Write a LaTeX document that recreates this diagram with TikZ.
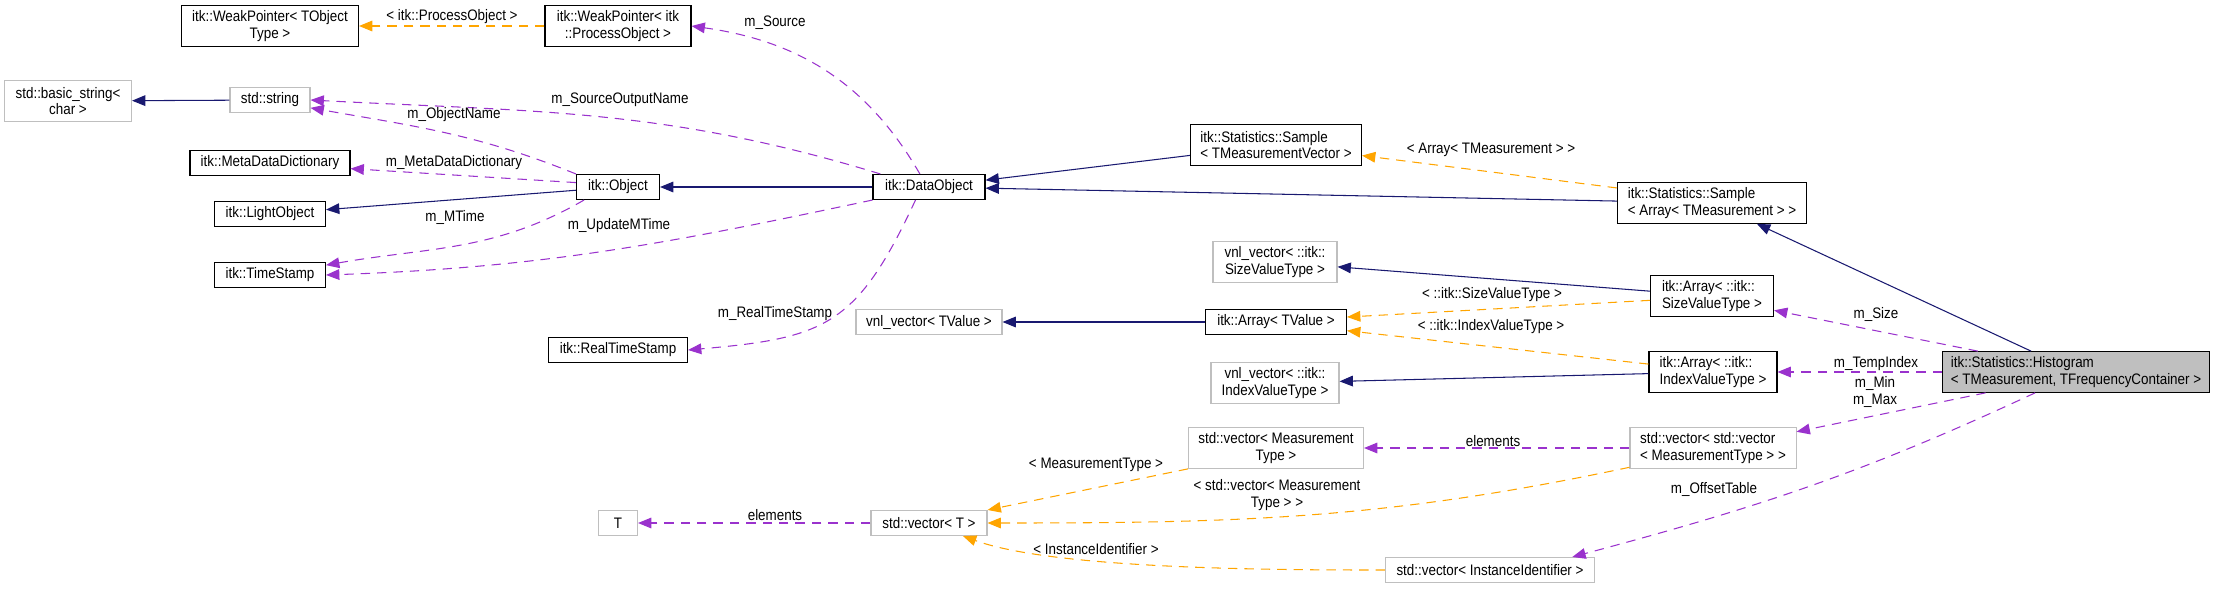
\documentclass[tikz,border=0pt]{standalone}
\usepackage{fontspec}
\setmainfont[FakeStretch=0.88]{Liberation Sans}
\definecolor{inhblue}{HTML}{191970}
\definecolor{usepurple}{HTML}{9A32CD}
\definecolor{tplorange}{HTML}{FFA500}
\definecolor{undocgray}{HTML}{BFBFBF}
\usetikzlibrary{arrows.meta}
\newcommand{\dxfont}{\fontsize{13}{14.2}\selectfont}

\begin{document}
\begin{tikzpicture}[
	x=0.03cm, y=-0.03cm,
	cls/.style={draw=black, fill=white, line width=0.9pt, inner sep=1pt, minimum height=0.75cm, font=\dxfont, align=center},
	ext/.style={cls, draw=undocgray},
	cur/.style={cls, fill=undocgray},
	two/.style={minimum height=1.22cm},
	lbl/.style={font=\dxfont, inner sep=0pt, align=center},
	inh/.style={-{Triangle[length=0.4cm, width=0.32cm]}, line width=0.9pt, color=inhblue},
	use/.style={-{Triangle[length=0.4cm, width=0.32cm]}, line width=0.9pt, color=usepurple, dash pattern=on 8pt off 6pt},
	tpl/.style={use, color=tplorange}
]
	\useasboundingbox (0,0) rectangle (2215,589);

	\node[cls, two, minimum width=5.31cm] (wpT) at (270,26) {itk::WeakPointer< TObject\\Type >};
	\node[cls, two, minimum width=4.38cm] (wpP) at (618,26) {itk::WeakPointer< itk\\::ProcessObject >};
	\node[ext, two, minimum width=3.81cm] (bstr) at (68,101) {std::basic\_string<\\char >};
	\node[ext, minimum width=2.4cm] (str) at (270,100) {std::string};
	\node[cls, minimum width=4.8cm] (mdd) at (270,163) {itk::MetaDataDictionary};
	\node[cls, minimum width=2.49cm] (obj) at (618,187) {itk::Object};
	\node[cls, minimum width=3.33cm] (lobj) at (270,214) {itk::LightObject};
	\node[cls, minimum width=3.33cm] (ts) at (270,275) {itk::TimeStamp};
	\node[cls, minimum width=4.17cm] (rts) at (618,350) {itk::RealTimeStamp};
	\node[ext, minimum width=1.17cm] (tT) at (618,523) {T};
	\node[cls, minimum width=3.36cm] (dobj) at (929,187) {itk::DataObject};
	\node[cls, two, minimum width=5.13cm, align=left] (smpV) at (1276,145) {itk::Statistics::Sample\\< TMeasurementVector >};
	\node[ext, two, minimum width=3.72cm] (vnlS) at (1275,262) {vnl\_vector< ::itk::\\SizeValueType >};
	\node[ext, minimum width=4.38cm] (vnlV) at (929,322) {vnl\_vector< TValue >};
	\node[cls, minimum width=4.23cm] (arrV) at (1276,322) {itk::Array< TValue >};
	\node[ext, two, minimum width=3.84cm] (vnlI) at (1275,383) {vnl\_vector< ::itk::\\IndexValueType >};
	\node[ext, two, minimum width=5.25cm] (vecM) at (1276,448) {std::vector< Measurement\\Type >};
	\node[ext, minimum width=3.48cm] (vecT) at (929,523) {std::vector< T >};
	\node[ext, minimum width=6.27cm] (vecI) at (1490,570) {std::vector< InstanceIdentifier >};
	\node[cls, two, minimum width=5.67cm, align=left] (smpA) at (1712,203) {itk::Statistics::Sample\\< Array< TMeasurement > >};
	\node[cls, two, minimum width=3.69cm, align=left] (arrS) at (1712,296) {itk::Array< ::itk::\\SizeValueType >};
	\node[cls, two, minimum width=3.84cm, align=left] (arrI) at (1713,372) {itk::Array< ::itk::\\IndexValueType >};
	\node[cur, two, minimum width=8.01cm, align=left] (hist) at (2076,372) {itk::Statistics::Histogram\\< TMeasurement, TFrequencyContainer >};
	\node[ext, two, minimum width=4.98cm, align=left] (vecVM) at (1713,448) {std::vector< std::vector\\< MeasurementType > >};

	\foreach \a/\b in {str/bstr, obj/lobj, dobj/obj, smpV/dobj, smpA/dobj, hist/smpA, arrS/vnlS, arrV/vnlV, arrI/vnlI}
		\draw[inh] (\a) -- (\b);

	\draw[use] (dobj.125) to[out=120, in=-8] (wpP.east);
	\draw[use] (dobj.165) to[out=163, in=-3] (str.east);
	\draw[use] (obj.north west) to[out=158, in=-10] (str.-11);
	\draw[use] (obj.174) -- (mdd.-4);
	\draw[use] (obj.201) to[out=210, in=10] (ts.10);
	\draw[use] (dobj.south west) to[out=192, in=2] (ts.east);
	\draw[use] (dobj.224) to[out=245, in=5, looseness=1.3] (rts.east);
	\draw[use] (hist.168) -- (arrS.-13);
	\draw[use] (hist.west) -- (arrI.east);
	\draw[use] (hist.193) -- (vecVM.11);
	\draw[use] (hist.207) to[out=205, in=15] (vecI.9);
	\draw[use] (vecVM.west) -- (vecM.east);
	\draw[use] (vecT.west) -- (tT.east);

	\draw[tpl] (wpP.west) -- (wpT.east);
	\draw[tpl] (smpA.171) -- (smpV.-7);
	\draw[tpl] (arrS.184) -- (arrV.4);
	\draw[tpl] (arrI.173) -- (arrV.-7);
	\draw[tpl] (vecM.south west) -- (vecT.north east);
	\draw[tpl] (vecVM.193) to[out=192, in=0] (vecT.east);
	\draw[tpl] (vecI.west) to[out=180, in=-20, looseness=0.6] (vecT.-21);

	\node[lbl] (lProc) at (452,17) {< itk::ProcessObject >};
	\node[lbl] (lSource) at (775,23) {m\_Source};
	\node[lbl] (lSrcOut) at (620,100) {m\_SourceOutputName};
	\node[lbl] (lObjName) at (454,115) {m\_ObjectName};
	\node[lbl] (lMdd) at (454,163) {m\_MetaDataDictionary};
	\node[lbl] (lMTime) at (455,217) {m\_MTime};
	\node[lbl] (lUpd) at (619,226) {m\_UpdateMTime};
	\node[lbl] (lRts) at (775,314) {m\_RealTimeStamp};
	\node[lbl] (lElemT) at (775,515) {elements};
	\node[lbl] (lArrMeas) at (1491,150) {< Array< TMeasurement > >};
	\node[lbl] (lSizeVT) at (1492,295) {< ::itk::SizeValueType >};
	\node[lbl] (lIdxVT) at (1491,327) {< ::itk::IndexValueType >};
	\node[lbl] (lMeasT) at (1096,465) {< MeasurementType >};
	\node[lbl] (lVecMeas) at (1277,495) {< std::vector< Measurement\\Type > >};
	\node[lbl] (lInst) at (1096,549) {< InstanceIdentifier >};
	\node[lbl] (lSize) at (1876,314) {m\_Size};
	\node[lbl] (lTmp) at (1876,364) {m\_TempIndex};
	\node[lbl] (lMinMax) at (1875,392) {m\_Min\\m\_Max};
	\node[lbl] (lElemM) at (1493,441) {elements};
	\node[lbl] (lOffs) at (1714,489) {m\_OffsetTable};
\end{tikzpicture}
\end{document}
